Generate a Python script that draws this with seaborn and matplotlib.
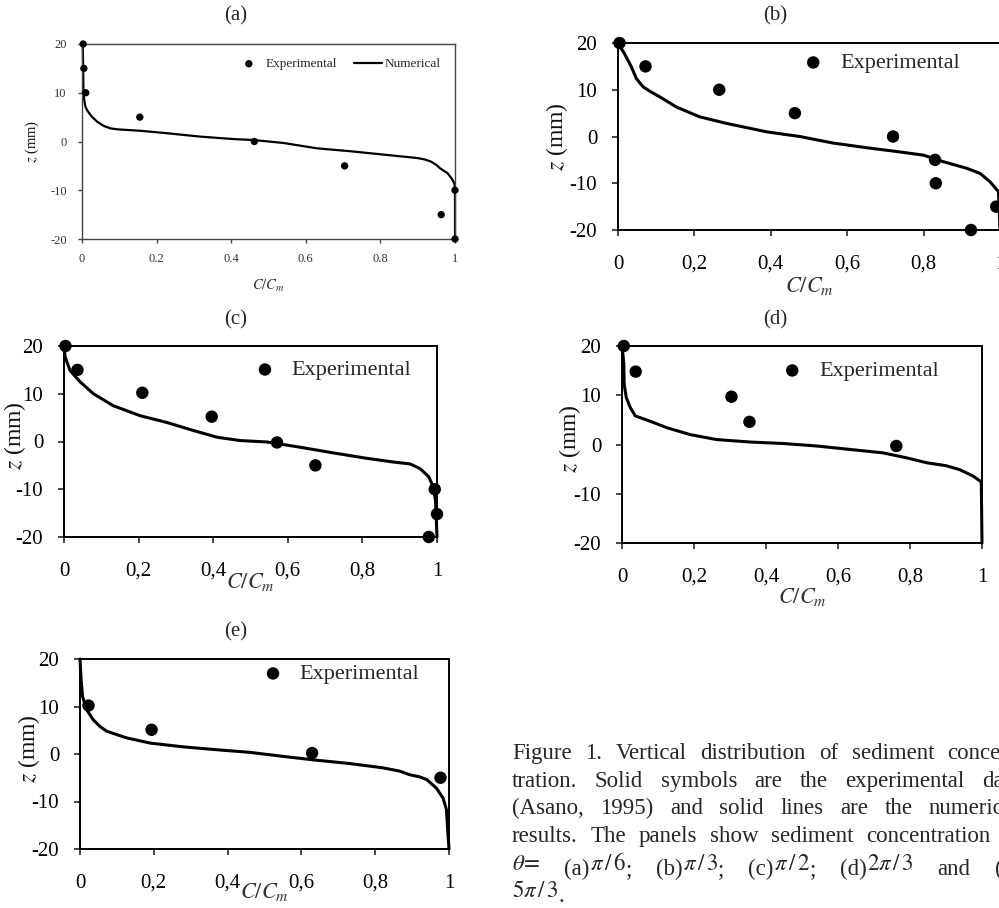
import re
import matplotlib
matplotlib.use("Agg")
import matplotlib.pyplot as plt
from matplotlib.transforms import IdentityTransform
import pandas as pd
import seaborn as sns

# ---- digitised data, z (mm) against C/Cm ----
# (a) theta = pi/6
exp_a_x = [0.003, 0.005, 0.01, 0.155, 0.462, 0.704, 0.963, 1.0, 1.0]
exp_a_z = [20, 15, 10, 5, 0, -5, -15, -10, -20]
num_a_x = [0.002, 0.003, 0.004, 0.006, 0.009, 0.013, 0.025, 0.04, 0.058, 0.076, 0.094,
           0.156, 0.228, 0.317, 0.406, 0.46, 0.54, 0.63, 0.72, 0.81, 0.9, 0.92, 0.935,
           0.95, 0.96, 0.98, 0.993, 0.998, 1.0, 1.0]
num_a_z = [20, 15, 10, 8.5, 7.2, 6.5, 5.2, 4.1, 3.2, 2.7, 2.5,
           2.2, 1.7, 1.0, 0.5, 0.3, -0.3, -1.4, -2.0, -2.7, -3.4, -3.7, -4.1,
           -4.8, -5.5, -6.5, -7.8, -8.6, -9.5, -20]

# (b) theta = pi/3
exp_b_x = [0.004, 0.072, 0.265, 0.463, 0.72, 0.83, 0.832, 0.99, 0.924]
exp_b_z = [20, 15, 10, 5, 0, -5, -10, -15, -20]
num_b_x = [0.0, 0.017, 0.035, 0.048, 0.066, 0.085, 0.109, 0.153, 0.214, 0.284, 0.389,
           0.476, 0.563, 0.651, 0.738, 0.8, 0.852, 0.913, 0.948, 0.974, 0.996, 1.0]
num_b_z = [20, 17.7, 14.9, 12.4, 10.6, 9.6, 8.5, 6.3, 4.2, 2.8, 1.0,
           0.0, -1.4, -2.4, -3.3, -4.0, -5.4, -6.8, -7.9, -9.7, -11.8, -20]

# (c) theta = pi/2
exp_c_x = [0.004, 0.036, 0.21, 0.396, 0.571, 0.674, 0.994, 1.0, 0.978]
exp_c_z = [20, 15, 10.2, 5.2, -0.2, -5, -10, -15.2, -20]
num_c_x = [0.0, 0.003, 0.016, 0.043, 0.079, 0.132, 0.204, 0.275, 0.347, 0.41, 0.472,
           0.544, 0.633, 0.723, 0.81, 0.883, 0.928, 0.955, 0.978, 0.99, 0.996, 1.0]
num_c_z = [20, 17.7, 14.9, 12.5, 10.0, 7.5, 5.4, 4.0, 2.3, 0.9, 0.2,
           -0.1, -1.2, -2.4, -3.5, -4.3, -4.7, -5.7, -7.4, -9.5, -12.3, -20]

# (d) theta = 2pi/3
exp_d_x = [0.005, 0.038, 0.304, 0.354, 0.762]
exp_d_z = [20, 14.8, 9.7, 4.6, -0.3]
num_d_x = [0.0, 0.005, 0.006, 0.012, 0.023, 0.037, 0.079, 0.125, 0.19, 0.263, 0.356,
           0.448, 0.54, 0.633, 0.725, 0.79, 0.846, 0.9, 0.938, 0.975, 0.998, 1.0]
num_d_z = [20, 16.5, 12.2, 9.5, 7.5, 5.8, 4.7, 3.4, 2.0, 1.0, 0.5,
           0.2, -0.3, -1.0, -1.7, -2.7, -3.7, -4.3, -5.1, -6.4, -7.6, -20]

# (e) theta = 5pi/3
exp_e_x = [0.023, 0.194, 0.629, 0.977]
exp_e_z = [10.2, 5.1, 0.2, -5]
num_e_x = [0.0, 0.003, 0.007, 0.018, 0.036, 0.054, 0.072, 0.099, 0.126, 0.19, 0.28,
           0.37, 0.46, 0.55, 0.64, 0.73, 0.82, 0.866, 0.895, 0.92, 0.94, 0.966,
           0.984, 0.993, 0.997, 1.0]
num_e_z = [20, 15.6, 12.1, 9.3, 7.2, 5.8, 4.8, 4.1, 3.4, 2.3, 1.5,
           0.9, 0.35, -0.5, -1.3, -2.0, -2.9, -3.6, -4.4, -4.8, -5.4, -7.2,
           -9.3, -11.7, -16.6, -20]

x_ticks = [0, 0.2, 0.4, 0.6, 0.8, 1]
x_labels_dot = ["0", "0.2", "0.4", "0.6", "0.8", "1"]
x_labels_comma = ["0", "0,2", "0,4", "0,6", "0,8", "1"]
z_ticks = [-20, -10, 0, 10, 20]
z_labels = ["-20", "-10", "0", "10", "20"]

# {...} marks an inline equation, set a little above the text baseline
caption_lines = [
    "Figure 1. Vertical distribution of sediment concen-",
    "tration. Solid symbols are the experimental data",
    "(Asano, 1995) and solid lines are the numerical",
    "results. The panels show sediment concentration at",
    r"{$\theta\!=$} (a){$\pi\,/\,6$}; (b){$\pi\,/\,3$}; (c){$\pi\,/\,2$}; (d){$2\pi\,/\,3$} and (e)",
    r"{$5\pi\,/\,3$}.",
]

# ---- style ----
sns.set_style("ticks")
plt.rcParams['font.family'] = ['Liberation Serif', 'DejaVu Serif']
plt.rcParams['mathtext.fontset'] = 'stix'

W, H = 999, 908
fig = plt.figure(figsize=(W / 100, H / 100), dpi=100)


def rect(l, t, r, b):
    return [l / W, 1 - b / H, (r - l) / W, (b - t) / H]


panels = [
    dict(name="(a)", box=(82, 44, 455, 239), title=(236, 16),
         ex=exp_a_x, ez=exp_a_z, nx=num_a_x, nz=num_a_z, small=True,
         leg=(0.41, 0.897), xl=(0.5, -0.2), yl=(-0.11, 0.5)),
    dict(name="(b)", box=(618, 43, 1000, 230), title=(775, 16),
         ex=exp_b_x, ez=exp_b_z, nx=num_b_x, nz=num_b_z, small=False,
         leg=(0.482, 0.893), xl=(0.5, -0.24), yl=(-0.125, 0.5)),
    dict(name="(c)", box=(64, 346, 437, 537), title=(236, 320),
         ex=exp_c_x, ez=exp_c_z, nx=num_c_x, nz=num_c_z, small=False,
         leg=(0.509, 0.874), xl=(0.5, -0.18), yl=(-0.097, 0.53)),
    dict(name="(d)", box=(622, 346, 982, 543), title=(775, 320),
         ex=exp_d_x, ez=exp_d_z, nx=num_d_x, nz=num_d_z, small=False,
         leg=(0.442, 0.873), xl=(0.5, -0.22), yl=(-0.108, 0.53)),
    dict(name="(e)", box=(80, 659, 449, 849), title=(236, 632),
         ex=exp_e_x, ez=exp_e_z, nx=num_e_x, nz=num_e_z, small=False,
         leg=(0.493, 0.921), xl=(0.5, -0.17), yl=(-0.103, 0.53)),
]

for p in panels:
    ax = fig.add_axes(rect(*p["box"]))
    small = p["small"]
    num = pd.DataFrame({"c": p["nx"], "z": p["nz"]})
    exp = pd.DataFrame({"c": p["ex"], "z": p["ez"]})

    sns.lineplot(data=num, x="c", y="z", sort=False, estimator=None, color="black",
                 linewidth=1.6 if small else 2.2, ax=ax, legend=False, clip_on=False)
    sns.scatterplot(data=exp, x="c", y="z", color="black", s=28 if small else 80,
                    edgecolor="none", ax=ax, legend=False, zorder=3, clip_on=False)

    ax.set_xlim(0, 1)
    ax.set_ylim(-20, 20)
    ax.set_xticks(x_ticks)
    ax.set_xticklabels(x_labels_dot if small else x_labels_comma)
    ax.set_yticks(z_ticks)
    ax.set_yticklabels(z_labels)

    spine_c = "#444444" if small else "black"
    for s in ax.spines.values():
        s.set_visible(True)
        s.set_color(spine_c)
        s.set_linewidth(1.0 if small else 1.4)

    if small:
        ax.tick_params(axis="both", direction="out", length=3, width=1, color=spine_c,
                       labelsize=9, labelcolor="#333333")
        ax.tick_params(axis="x", pad=7)
        ax.tick_params(axis="y", pad=8)
        fs_lab, fs_leg = 10.5, 9.5
    else:
        ax.tick_params(axis="both", direction="out", length=4, width=1.2,
                       labelsize=15, labelcolor="black")
        ax.tick_params(axis="x", pad=14)
        ax.tick_params(axis="y", pad=11)
        fs_lab, fs_leg = 16, 16

    ax.set_xlabel(r"$C/C_m$", fontsize=fs_lab, color="#333333")
    ax.set_ylabel(r"$z$ (mm)", fontsize=fs_lab + (0 if small else 1), color="#111111")
    ax.xaxis.set_label_coords(*p["xl"])
    ax.yaxis.set_label_coords(*p["yl"])

    sc = ax.collections[-1]
    ln = ax.lines[0]
    if small:
        ax.legend([sc, ln], ["Experimental", "Numerical"], ncol=2, frameon=False,
                  fontsize=fs_leg, loc="center left", bbox_to_anchor=p["leg"],
                  borderpad=0, borderaxespad=0, handlelength=2.1,
                  handletextpad=0.2, columnspacing=1.3, scatterpoints=1)
    else:
        ax.legend([sc], ["Experimental"], frameon=False, fontsize=fs_leg,
                  loc="center left", bbox_to_anchor=p["leg"], borderpad=0,
                  borderaxespad=0, handlelength=1.0, handletextpad=0.7,
                  scatterpoints=1)

    fig.text(p["title"][0] / W, 1 - p["title"][1] / H, p["name"], fontsize=15,
             ha="center", va="center")

# ---- caption, justified like the printed page ----
cap_fs = 16.5
x0, x_right = 512, 1020
baselines = [759, 787, 814, 842, 875, 902]
raise_px = 5

fig.canvas.draw()
renderer = fig.canvas.get_renderer()
for i, line in enumerate(caption_lines):
    words = []
    for w in line.split(" "):
        parts = [q for q in re.split(r"(\{[^}]*\})", w) if q]
        pieces = []
        for q in parts:
            up = q.startswith("{")
            s = q[1:-1] if up else q
            t = fig.text(0, 0, s, transform=IdentityTransform(), fontsize=cap_fs,
                         ha="left", va="baseline")
            pieces.append((t, up, t.get_window_extent(renderer).width))
        words.append(pieces)
    widths = [sum(pc[2] for pc in wd) for wd in words]
    last = i == len(caption_lines) - 1
    if last or len(words) == 1:
        gap = cap_fs * 100 / 72 * 0.25
    else:
        gap = (x_right - x0 - sum(widths)) / (len(words) - 1)
    x = x0
    yb = H - baselines[i]
    for wd, wdt in zip(words, widths):
        xx = x
        for t, up, tw in wd:
            t.set_position((xx, yb + (raise_px if up else 0)))
            xx += tw
        x += wdt + gap

fig.savefig("out.png", dpi=100)
